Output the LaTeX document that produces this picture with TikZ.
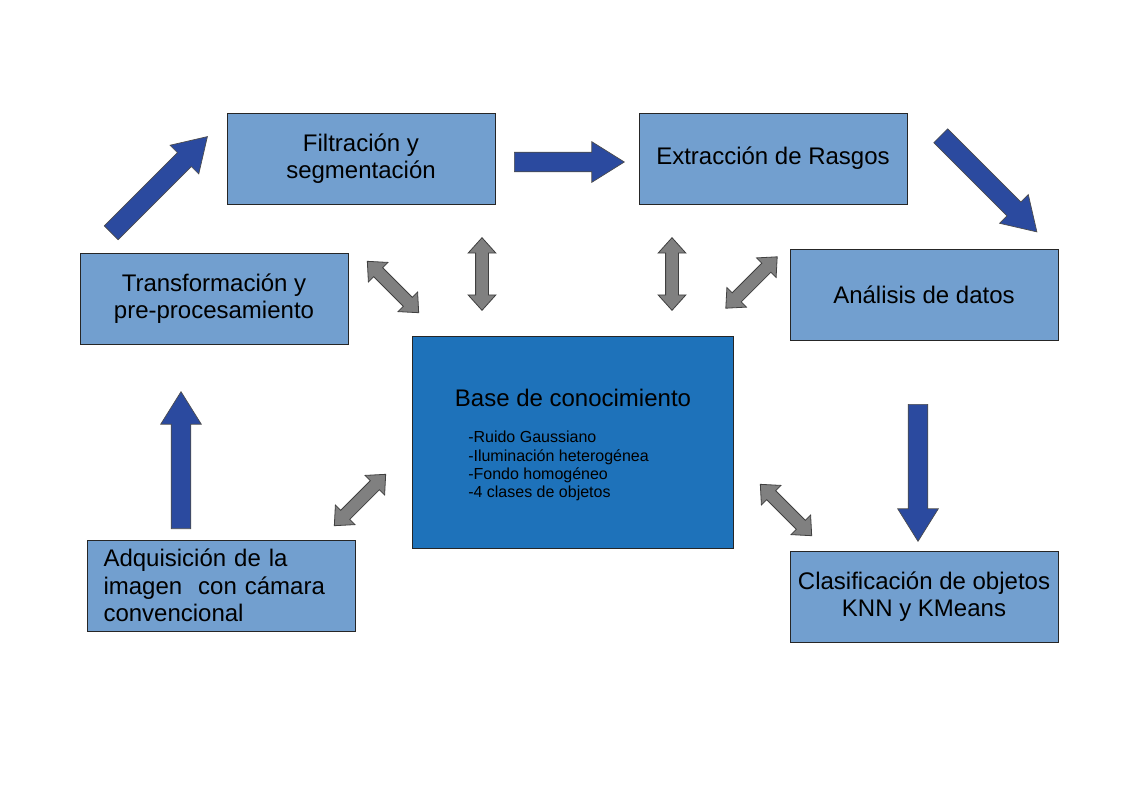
\documentclass[tikz,border=0pt]{standalone}
\usepackage{fontspec}
\setmainfont{Liberation Sans}
\usetikzlibrary{shapes.arrows}
\definecolor{boxblue}{HTML}{729FCF}
\definecolor{baseblue}{HTML}{1E72BA}
\definecolor{arrowblue}{HTML}{2B4A9F}
\definecolor{arrowgray}{HTML}{808080}
\begin{document}
\begin{tikzpicture} [x=0.75pt, y=-0.75pt,
  box/.style = {draw=black!85, line width=0.75pt, fill=boxblue, minimum width=201pt, minimum height=68.25pt, inner sep=0pt, align=center, font=\fontsize{18}{20.7}\selectfont},
  bluearrow/.style = {single arrow, anchor=tail, draw=black!70, line width=0.5pt, fill=arrowblue, inner xsep=0pt, inner ysep=7.1pt, single arrow head extend=7.9pt, single arrow tip angle=64},
  grayarrow/.style = {double arrow, draw=black!75, line width=0.6pt, fill=arrowgray, inner xsep=0pt, inner ysep=4.5pt, double arrow head extend=5.6pt, double arrow tip angle=84, minimum height=54.5pt}]
\useasboundingbox (0,0) rectangle (1123,794);
% boxes
\node[box] (filtr) at (361,158.5) {Filtración y\\segmentación};
\node[box] (extr) at (773,158.5) {Extracción de Rasgos};
\node[box] (transf) at (214,298.5) {Transformación y\\pre-procesamiento};
\node[box] (anal) at (924,294.5) {Análisis de datos};
\node[box] (clasif) at (924,596.5) {Clasificación de objetos\\KNN y KMeans};
\node[box, align=left, text width=177pt, inner xsep=12pt] (adq) at (221.5,585.5) {Adquisición de la\\imagen\ \ con cámara\\convencional};
% base de conocimiento
\node[draw=black!85, line width=0.75pt, fill=baseblue, minimum width=240.75pt, minimum height=159pt] (base) at (572.5,442) {};
\node[font=\fontsize{18}{20.7}\selectfont, inner sep=0pt] (basetitle) at (573,398) {Base de conocimiento};
\node[anchor=west, align=left, inner sep=0pt, font=\fontsize{12}{13.6}\selectfont] (baselist) at (468,466) {-Ruido Gaussiano\\-Iluminación heterogénea\\-Fondo homogéneo\\-4 clases de objetos};
% flow arrows
\node[bluearrow, minimum height=102.75pt, rotate=90] (up2) at (181,529) {};
\node[bluearrow, minimum height=102pt, rotate=45] (up1) at (111,233) {};
\node[bluearrow, minimum height=82.5pt] (right1) at (514,162) {};
\node[bluearrow, minimum height=102pt, rotate=-45] (down1) at (940.5,135.5) {};
\node[bluearrow, minimum height=102.75pt, rotate=-90] (down2) at (918,404) {};
% links to the base
\node[grayarrow, rotate=-45] (g1) at (393,287) {};
\node[grayarrow, rotate=90] (g2) at (482,274) {};
\node[grayarrow, rotate=90] (g3) at (672,274) {};
\node[grayarrow, rotate=45] (g4) at (751.5,282.5) {};
\node[grayarrow, rotate=45] (g5) at (360,500) {};
\node[grayarrow, rotate=-45] (g6) at (786,510) {};
\end{tikzpicture}
\end{document}
